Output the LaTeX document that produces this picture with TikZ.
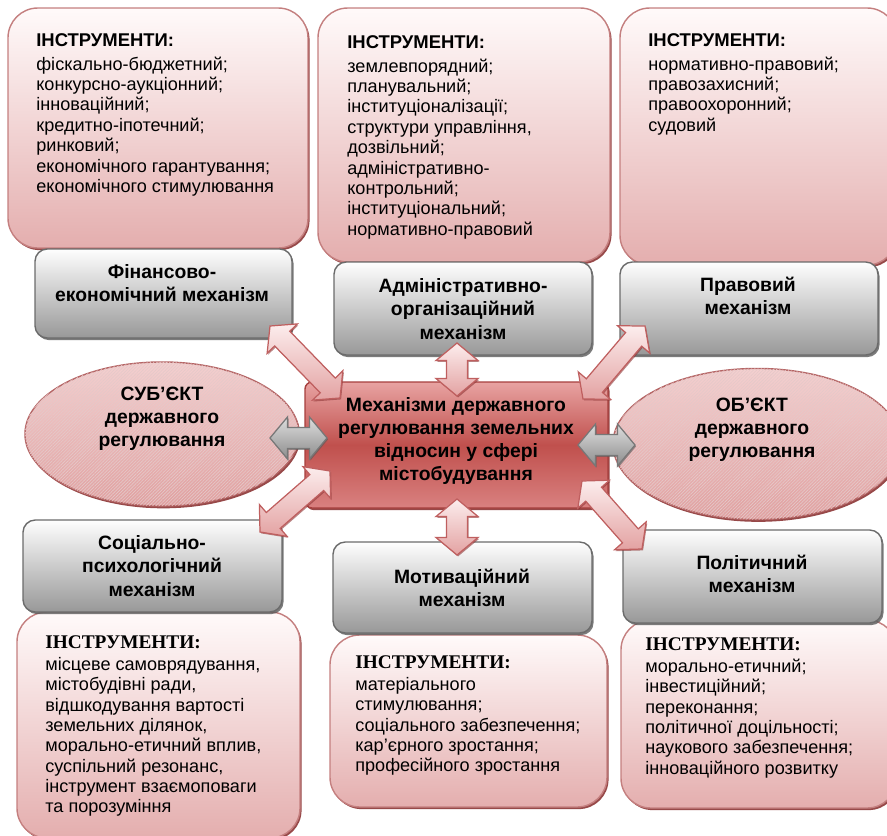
\documentclass[tikz,border=0pt]{standalone}
\usepackage{fontspec}
\setmainfont{Liberation Sans}
\newfontfamily\headserif{Liberation Serif}
\usepackage{tikz}
\usetikzlibrary{calc,fit,shapes.geometric,shadows,patterns.meta}
\usepackage{xcolor}

\definecolor{pinkline}{HTML}{C47F7F}
\definecolor{pinkshadow}{HTML}{8C3535}
\definecolor{pinktop}{HTML}{FFFAFA}
\definecolor{pinkbot}{HTML}{E4AEAE}
\definecolor{greyline}{HTML}{6B6B6B}
\definecolor{greyshadow}{HTML}{5A5A5A}
\definecolor{greytop}{HTML}{FEFEFE}
\definecolor{greybot}{HTML}{989898}
\definecolor{mechtop}{HTML}{E8A3A2}
\definecolor{mechmid}{HTML}{C0504D}
\definecolor{mechbot}{HTML}{D98180}
\definecolor{mechline}{HTML}{A63F3D}
\definecolor{ovaltop}{HTML}{F4D0D0}
\definecolor{ovalbot}{HTML}{E0A0A0}
\definecolor{ovalline}{HTML}{B56565}
\definecolor{arrtop}{HTML}{FCEDED}
\definecolor{arrbot}{HTML}{E3A2A2}
\definecolor{arrline}{HTML}{BF5F5F}
\definecolor{garrtop}{HTML}{DEDEDE}
\definecolor{garrbot}{HTML}{8C8C8C}
\definecolor{garrline}{HTML}{777777}

\newcommand\arrlen{10pt}
\newcommand\arrhead{12pt}
\newcommand\arrshaft{6pt}
% block arrow with two heads: #1 style, #2 and #3 ends
\newcommand\dblarr[3]{%
  \draw[#1] (#2) -- ($(#2)!\arrlen!(#3)!\arrhead!90:(#3)$) -- ($(#2)!\arrlen!(#3)!\arrshaft!90:(#3)$)
    -- ($(#3)!\arrlen!(#2)!\arrshaft!-90:(#2)$) -- ($(#3)!\arrlen!(#2)!\arrhead!-90:(#2)$) -- (#3)
    -- ($(#3)!\arrlen!(#2)!\arrhead!90:(#2)$) -- ($(#3)!\arrlen!(#2)!\arrshaft!90:(#2)$)
    -- ($(#2)!\arrlen!(#3)!\arrshaft!-90:(#3)$) -- ($(#2)!\arrlen!(#3)!\arrhead!-90:(#3)$) -- cycle;}
\newcommand\sanshead{{\fontsize{10.5}{12}\selectfont\bfseries ІНСТРУМЕНТИ:}\\[2pt]}
\newcommand\serifhead{{\fontsize{11}{12}\selectfont\headserif\bfseries ІНСТРУМЕНТИ:}\\[1pt]}

\begin{document}
\begin{tikzpicture}[x=0.02cm, y=-0.02cm,
  instr/.style={draw=pinkline, line width=0.8pt, rounded corners=17pt, inner sep=0pt,
    top color=pinktop, bottom color=pinkbot,
    drop shadow={shadow xshift=0.9pt, shadow yshift=-1.2pt, fill=pinkshadow, opacity=0.9}},
  mech/.style={draw=greyline, line width=0.8pt, rounded corners=7pt, inner sep=0pt,
    top color=greytop, bottom color=greybot,
    drop shadow={shadow xshift=0.9pt, shadow yshift=-1.2pt, fill=greyshadow, opacity=0.8}},
  oval/.style={ellipse, draw=ovalline, line width=0.8pt, inner sep=0pt,
    top color=ovaltop, bottom color=ovalbot,
    drop shadow={shadow xshift=0.8pt, shadow yshift=-1.3pt, fill=pinkshadow, opacity=0.9},
    postaction={pattern={Lines[angle=45,distance=1.3pt,line width=0.35pt]}, pattern color=ovalline!35}},
  main/.style={draw=mechline, line width=0.8pt, rounded corners=4pt, inner sep=0pt,
    top color=mechtop, bottom color=mechbot, middle color=mechmid,
    drop shadow={shadow xshift=0.9pt, shadow yshift=-1.2pt, fill=pinkshadow, opacity=0.9}},
  instrtext/.style={anchor=north west, inner sep=0pt, align=left, font=\fontsize{10.3}{11.6}\selectfont},
  title/.style={inner sep=0pt, align=center, font=\fontsize{11}{13.2}\selectfont\bfseries},
  pinkarrow/.style={draw=arrline, line width=0.7pt, top color=arrtop, bottom color=arrbot,
    drop shadow={shadow xshift=0.6pt, shadow yshift=-0.8pt, fill=pinkshadow, opacity=0.6}},
  greyarrow/.style={draw=garrline, line width=0.7pt, top color=garrtop, bottom color=garrbot,
    drop shadow={shadow xshift=0.6pt, shadow yshift=-0.8pt, fill=greyshadow, opacity=0.6}}]
\useasboundingbox (0,0) rectangle (887,836);
\clip (0,0) rectangle (887,836);
% upper row
\node[instr, fit={(8,8) (308,248)}] (fininstr) {};
\node[instr, fit={(318,8) (610,262)}] (adminstr) {};
\node[instr, fit={(620,8) (897,265)}] (pravinstr) {};
\node[mech, fit={(35,249) (292,338)}] (fin) {};
\node[mech, fit={(334,262) (592,355)}] (adm) {};
\node[mech, fit={(620,262) (878,355)}] (prav) {};
% lower row
\node[instr, fit={(17,612) (300,838)}] (socinstr) {};
\node[instr, fit={(330,635) (607,807)}] (motivinstr) {};
\node[instr, fit={(621,620) (897,808)}] (politinstr) {};
\node[mech, fit={(23,520) (282,612)}] (soc) {};
\node[mech, fit={(333,542) (592,633)}] (motiv) {};
\node[mech, fit={(623,530) (882,623)}] (polit) {};
% middle
\node[oval, minimum width=156pt, minimum height=82pt] (subj) at (162,434) {};
\node[oval, minimum width=164pt, minimum height=86pt] (obj) at (757,444) {};
\node[main, fit={(305,382) (608,508)}] (mechs) {};

\node[instrtext] (fintext) at (36,33) {\sanshead
  фіскально-бюджетний;\\конкурсно-аукціонний;\\інноваційний;\\кредитно-іпотечний;\\
  ринковий;\\економічного гарантування;\\економічного стимулювання};
\node[instrtext] (admtext) at (347,35) {\sanshead
  землевпорядний;\\планувальний;\\інституціоналізації;\\структури управління,\\
  дозвільний;\\адміністративно-\\контрольний;\\інституціональний;\\нормативно-правовий};
\node[instrtext] (pravtext) at (648,33) {\sanshead
  нормативно-правовий;\\правозахисний;\\правоохоронний;\\судовий};
\node[instrtext] (soctext) at (45,635) {\serifhead
  місцеве самоврядування,\\містобудівні ради,\\відшкодування вартості\\земельних ділянок,\\
  морально-етичний вплив,\\суспільний резонанс,\\інструмент взаємоповаги\\та порозуміння};
\node[instrtext] (motivtext) at (355,655) {\serifhead
  матеріального\\стимулювання;\\соціального забезпечення;\\кар’єрного зростання;\\
  професійного зростання};
\node[instrtext] (polittext) at (645,637) {\serifhead
  морально-етичний;\\інвестиційний;\\переконання;\\політичної доцільності;\\
  наукового забезпечення;\\інноваційного розвитку};

\node[title] (fintitle) at (162,283) {Фінансово-\\економічний механізм};
\node[title] (admtitle) at (463,309) {Адміністративно-\\організаційний\\механізм};
\node[title] (pravtitle) at (748,296) {Правовий\\механізм};
\node[title] (soctitle) at (152,566) {Соціально-\\психологічний\\механізм};
\node[title] (motivtitle) at (462,588) {Мотиваційний\\механізм};
\node[title] (polittitle) at (752,574) {Політичний\\механізм};
\node[title] (subjtitle) at (162,419) {СУБ’ЄКТ\\державного\\регулювання};
\node[title] (objtitle) at (752,430) {ОБ’ЄКТ\\державного\\регулювання};
\node[title] (mechstitle) at (456,441) {Механізми державного\\регулювання земельних\\відносин у сфері\\містобудування};

% arrows
\coordinate (fin-a) at (270,326);   \coordinate (fin-b) at (340,398);
\coordinate (adm-a) at (457,343);   \coordinate (adm-b) at (457,396);
\coordinate (prav-a) at (645,326);  \coordinate (prav-b) at (583,399);
\coordinate (soc-a) at (330,471);   \coordinate (soc-b) at (260,532);
\coordinate (motiv-a) at (457,499); \coordinate (motiv-b) at (457,555);
\coordinate (polit-a) at (582,481); \coordinate (polit-b) at (642,549);
\coordinate (subj-a) at (270,438);  \coordinate (subj-b) at (327,438);
\coordinate (obj-a) at (578,445);   \coordinate (obj-b) at (635,445);
\foreach \n in {fin,adm,prav,soc,motiv,polit}
  \dblarr{pinkarrow}{\n-a}{\n-b};
\foreach \n in {subj,obj}
  \dblarr{greyarrow}{\n-a}{\n-b};
\end{tikzpicture}
\end{document}
